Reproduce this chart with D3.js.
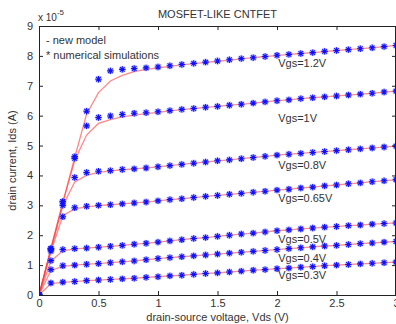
<!DOCTYPE html>
<html>
<head>
<meta charset="utf-8">
<script src="https://cdn.jsdelivr.net/npm/d3@7"></script>
<style>
  html, body { margin: 0; padding: 0; background: #fff; }
  svg { display: block; font-family: "Liberation Sans", Arial, sans-serif; }
</style>
</head>
<body>
<svg id="chart" width="396" height="324"></svg>
<script>
// Vds sweep (V)
const vds = [0, 0.1, 0.2, 0.3, 0.4, 0.5, 0.6, 0.7, 0.8, 0.9, 1.0, 1.1, 1.2, 1.3, 1.4, 1.5,
             1.6, 1.7, 1.8, 1.9, 2.0, 2.1, 2.2, 2.3, 2.4, 2.5, 2.6, 2.7, 2.8, 2.9, 3.0];

// Ids in units of 1e-5 A
const sim12 = [0,1.55,3.12,4.63,6.15,7.22,7.50,7.55,7.58,7.60,7.63,7.67,7.71,7.75,7.79,7.83,7.87,7.91,7.94,7.98,8.02,8.05,8.08,8.11,8.15,8.18,8.21,8.24,8.27,8.31,8.35];
const mod12 = [0,1.55,3.10,4.60,6.05,6.77,7.16,7.35,7.47,7.55,7.60,7.65,7.70,7.74,7.78,7.82,7.86,7.90,7.94,7.98,8.01,8.05,8.08,8.11,8.14,8.18,8.21,8.24,8.27,8.31,8.35];
const sim10 = [0,1.55,3.12,4.57,5.66,5.94,5.99,6.04,6.08,6.10,6.13,6.17,6.21,6.24,6.28,6.31,6.35,6.38,6.42,6.46,6.50,6.53,6.57,6.60,6.63,6.66,6.69,6.72,6.75,6.79,6.82];
const mod10 = [0,1.55,3.08,4.50,5.35,5.74,5.87,5.96,6.02,6.07,6.11,6.16,6.20,6.24,6.28,6.31,6.35,6.38,6.42,6.46,6.50,6.53,6.57,6.60,6.63,6.66,6.69,6.72,6.75,6.79,6.82];
const sim08 = [0,1.53,3.00,3.93,4.10,4.14,4.16,4.20,4.22,4.25,4.29,4.33,4.37,4.41,4.45,4.49,4.52,4.56,4.60,4.64,4.68,4.71,4.74,4.77,4.80,4.83,4.86,4.89,4.92,4.95,4.98];
const mod08 = [0,1.50,2.98,3.78,4.00,4.10,4.15,4.19,4.22,4.25,4.29,4.33,4.37,4.41,4.45,4.49,4.52,4.56,4.60,4.64,4.68,4.71,4.74,4.77,4.80,4.83,4.86,4.89,4.92,4.95,4.98];
const sim065 = [0,1.47,2.62,2.92,2.97,3.00,3.02,3.05,3.08,3.11,3.15,3.19,3.22,3.26,3.30,3.33,3.37,3.40,3.44,3.47,3.51,3.54,3.58,3.61,3.65,3.68,3.72,3.75,3.79,3.82,3.86];
const mod065 = [0,1.45,2.65,2.88,2.95,2.99,3.02,3.05,3.08,3.11,3.15,3.19,3.22,3.26,3.30,3.33,3.37,3.40,3.44,3.47,3.51,3.54,3.58,3.61,3.65,3.68,3.72,3.75,3.79,3.82,3.86];
const sim05 = [0,1.15,1.52,1.55,1.57,1.60,1.63,1.66,1.70,1.73,1.77,1.81,1.85,1.89,1.92,1.96,2.00,2.04,2.07,2.11,2.15,2.18,2.21,2.24,2.27,2.29,2.32,2.34,2.37,2.39,2.41];
const mod05 = [0,1.13,1.48,1.54,1.57,1.60,1.63,1.66,1.70,1.73,1.77,1.81,1.85,1.89,1.92,1.96,2.00,2.04,2.07,2.11,2.15,2.18,2.21,2.24,2.27,2.29,2.32,2.34,2.37,2.39,2.41];
const sim04 = [0,0.85,0.98,1.00,1.03,1.05,1.08,1.11,1.14,1.18,1.22,1.25,1.28,1.31,1.34,1.37,1.40,1.43,1.46,1.49,1.52,1.55,1.58,1.61,1.64,1.66,1.69,1.72,1.74,1.77,1.79];
const mod04 = [0,0.82,0.96,1.00,1.03,1.05,1.08,1.11,1.14,1.18,1.22,1.25,1.28,1.31,1.34,1.37,1.40,1.43,1.46,1.49,1.52,1.55,1.58,1.61,1.64,1.66,1.69,1.72,1.74,1.77,1.79];
const sim03 = [0,0.40,0.43,0.45,0.48,0.50,0.52,0.54,0.56,0.59,0.61,0.64,0.66,0.69,0.72,0.74,0.77,0.80,0.83,0.85,0.88,0.90,0.93,0.95,0.98,1.00,1.02,1.04,1.06,1.08,1.10];
const mod03 = [0,0.38,0.42,0.45,0.48,0.50,0.52,0.54,0.56,0.59,0.61,0.64,0.66,0.69,0.72,0.74,0.77,0.80,0.83,0.85,0.88,0.90,0.93,0.95,0.98,1.00,1.02,1.04,1.06,1.08,1.10];

const simSeries = [sim12, sim10, sim08, sim065, sim05, sim04, sim03];
const modelSeries = [mod12, mod10, mod08, mod065, mod05, mod04, mod03];

// curve labels and where they sit (Vds, Ids)
const curveLabels = ['Vgs=1.2V', 'Vgs=1V', 'Vgs=0.8V', 'Vgs=0.65V', 'Vgs=0.5V', 'Vgs=0.4V', 'Vgs=0.3V'];
const labelY = [7.76, 5.92, 4.35, 3.24, 1.87, 1.24, 0.67];
const labelX = 2.01;

const xTicks = [0, 0.5, 1, 1.5, 2, 2.5, 3];
const yTicks = [0, 1, 2, 3, 4, 5, 6, 7, 8, 9];

const margin = { left: 39, right: 396, top: 26, bottom: 295 };
const textColor = '#333';

const svg = d3.select('#chart');
const x = d3.scaleLinear().domain([0, 3]).range([margin.left, margin.right]);
const y = d3.scaleLinear().domain([0, 9]).range([margin.bottom, margin.top]);

// clip for plot area
svg.append('clipPath').attr('id', 'plotClip')
  .append('rect')
  .attr('x', margin.left).attr('y', margin.top)
  .attr('width', margin.right - margin.left).attr('height', margin.bottom - margin.top);

const plot = svg.append('g').attr('clip-path', 'url(#plotClip)');

// model lines
const line = d3.line().x((d, i) => x(vds[i])).y(d => y(d));
plot.selectAll('path.model')
  .data(modelSeries)
  .enter().append('path')
  .attr('class', 'model')
  .attr('d', line)
  .attr('fill', 'none')
  .attr('stroke', '#ff3a3a')
  .attr('stroke-opacity', 0.6)
  .attr('stroke-width', 1.3);

// simulation markers: halo + asterisk
const pts = [];
simSeries.forEach(s => s.forEach((v, i) => pts.push({ vx: vds[i], vy: v })));

plot.selectAll('circle.halo')
  .data(pts)
  .enter().append('circle')
  .attr('class', 'halo')
  .attr('cx', d => x(d.vx))
  .attr('cy', d => y(d.vy))
  .attr('r', 3.6)
  .attr('fill', '#8c8cff')
  .attr('fill-opacity', 0.45);

const star = 'M-3.2,0H3.2M0,-3.2V3.2M-2.3,-2.3L2.3,2.3M-2.3,2.3L2.3,-2.3';
plot.selectAll('path.star')
  .data(pts)
  .enter().append('path')
  .attr('class', 'star')
  .attr('transform', d => `translate(${x(d.vx)},${y(d.vy)})`)
  .attr('d', star)
  .attr('stroke', '#1010ff')
  .attr('stroke-width', 1.1)
  .attr('fill', 'none');

// curve labels
svg.selectAll('text.vgs')
  .data(curveLabels)
  .enter().append('text')
  .attr('class', 'vgs')
  .attr('x', x(labelX))
  .attr('y', (d, i) => y(labelY[i]))
  .attr('dy', '0.35em')
  .attr('font-size', 11)
  .attr('fill', textColor)
  .text(d => d);

// axes (MATLAB style: ticks inside, full box)
const tickLen = 4;
const axisBottom = d3.axisBottom(x).tickValues(xTicks).tickSize(-tickLen).tickPadding(4)
  .tickFormat(d => d === 0 ? '0' : d3.format('~g')(d));
const axisTop = d3.axisTop(x).tickValues(xTicks).tickSize(-tickLen).tickFormat('');
const axisLeft = d3.axisLeft(y).tickValues(yTicks).tickSize(-tickLen).tickPadding(6);
const axisRight = d3.axisRight(y).tickValues(yTicks).tickSize(-tickLen).tickFormat('');

function styleAxis(g) {
  g.select('.domain').remove();
  g.selectAll('.tick line').attr('stroke', '#222');
  g.selectAll('.tick text').attr('fill', textColor).attr('font-size', 11)
    .attr('font-family', '"Liberation Sans", Arial, sans-serif');
}

svg.append('g').attr('transform', `translate(0,${margin.bottom})`).call(axisBottom).call(styleAxis);
svg.append('g').attr('transform', `translate(0,${margin.top})`).call(axisTop).call(styleAxis);
svg.append('g').attr('transform', `translate(${margin.left},0)`).call(axisLeft).call(styleAxis);
svg.append('g').attr('transform', `translate(${margin.right},0)`).call(axisRight).call(styleAxis);

svg.append('rect')
  .attr('x', margin.left + 0.5).attr('y', margin.top + 0.5)
  .attr('width', margin.right - margin.left - 1).attr('height', margin.bottom - margin.top)
  .attr('fill', 'none').attr('stroke', '#222').attr('stroke-width', 1);

// title and exponent
svg.append('text')
  .attr('x', (margin.left + margin.right) / 2).attr('y', 18)
  .attr('text-anchor', 'middle')
  .attr('font-size', 11).attr('fill', textColor)
  .text('MOSFET-LIKE CNTFET');

const expo = svg.append('text').attr('x', 38).attr('y', 21).attr('font-size', 10).attr('fill', textColor);
expo.append('tspan').text('x 10');
expo.append('tspan').attr('dy', -6).attr('font-size', 8).text('-5');

// legend text
svg.append('text').attr('x', 46).attr('y', 44).attr('font-size', 11).attr('fill', textColor).text('- new model');
svg.append('text').attr('x', 46).attr('y', 59).attr('font-size', 11).attr('fill', textColor).text('* numerical simulations');

// axis labels
svg.append('text')
  .attr('x', (margin.left + margin.right) / 2).attr('y', 321)
  .attr('text-anchor', 'middle')
  .attr('font-size', 11).attr('fill', textColor)
  .text('drain-source voltage, Vds (V)');

svg.append('text')
  .attr('transform', `translate(16,${(margin.top + margin.bottom) / 2}) rotate(-90)`)
  .attr('text-anchor', 'middle')
  .attr('font-size', 11).attr('fill', textColor)
  .text('drain current, Ids (A)');
</script>
</body>
</html>
